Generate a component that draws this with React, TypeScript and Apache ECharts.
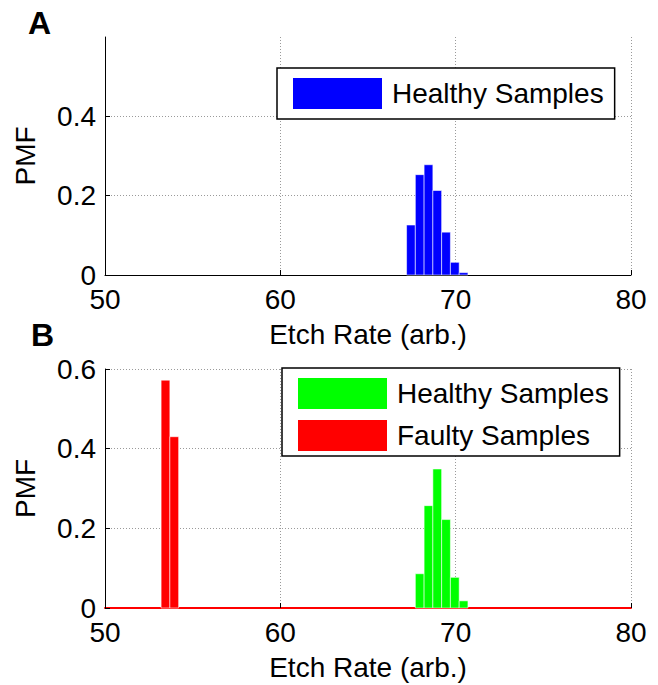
import React, { useEffect, useRef } from 'react';
import * as echarts from 'echarts';

// Panel A: healthy samples
const healthyBinsA = [67.45, 67.95, 68.45, 68.95, 69.45, 69.95, 70.45];
const healthyPmfA = [0.126, 0.253, 0.278, 0.213, 0.108, 0.032, 0.006];
// Panel B: healthy and faulty samples
const healthyBinsB = [67.95, 68.45, 68.95, 69.45, 69.95, 70.45];
const healthyPmfB = [0.086, 0.257, 0.349, 0.222, 0.077, 0.018];
const faultyBinsB = [53.45, 53.95];
const faultyPmfB = [0.572, 0.43];
const binWidth = 0.5;

const xRange = [50, 80];
const xStep = 10;
const yRange = [0, 0.6];
const yStep = 0.2;

const xLabel = 'Etch Rate (arb.)';
const yLabel = 'PMF';
const healthyName = 'Healthy Samples';
const faultyName = 'Faulty Samples';

const FONT = "'Liberation Sans', Arial, sans-serif";

const zip = (xs: number[], ys: number[]) => xs.map((x, i) => [x, ys[i]]);

const barRender = (color: string) => (params: any, api: any) => {
  const x = api.value(0);
  const y = api.value(1);
  const p0 = api.coord([x - binWidth / 2, y]);
  const p1 = api.coord([x + binWidth / 2, 0]);
  return {
    type: 'rect',
    shape: { x: p0[0], y: p0[1], width: p1[0] - p0[0], height: p1[1] - p0[1] },
    style: { fill: color, stroke: 'rgba(255,255,255,0.55)', lineWidth: 1 },
  };
};

const xAxisBase = (gridIndex: number, lineColor: string, lineWidth: number) => ({
  type: 'value',
  gridIndex,
  min: xRange[0],
  max: xRange[1],
  interval: xStep,
  name: xLabel,
  nameLocation: 'middle',
  nameGap: 45,
  nameTextStyle: { fontFamily: FONT, fontSize: 28, color: '#000' },
  axisLine: { show: true, onZero: false, lineStyle: { color: lineColor, width: lineWidth } },
  axisTick: { show: true, inside: true, length: 5, lineStyle: { color: '#000', width: 1 } },
  axisLabel: { fontFamily: FONT, fontSize: 28, lineHeight: 22, color: '#000', margin: 13 },
  splitLine: {
    show: true,
    showMinLine: false,
    showMaxLine: true,
    lineStyle: { color: '#9a9a9a', type: [1, 2], width: 1 },
  },
});

const yAxisBase = (gridIndex: number, showTop: boolean) => ({
  type: 'value',
  gridIndex,
  min: yRange[0],
  max: yRange[1],
  interval: yStep,
  name: yLabel,
  nameLocation: 'middle',
  nameGap: 66,
  nameTextStyle: { fontFamily: FONT, fontSize: 28, color: '#000' },
  axisLine: { show: true, lineStyle: { color: '#000', width: 1 } },
  axisTick: { show: true, inside: true, length: 5, lineStyle: { color: '#000', width: 1 } },
  axisLabel: {
    fontFamily: FONT,
    fontSize: 28,
    lineHeight: 22,
    color: '#000',
    margin: 9,
    showMaxLabel: showTop,
    formatter: (v: number) => (v === 0 ? '0' : String(Math.round(v * 10) / 10)),
  },
  splitLine: {
    show: true,
    showMinLine: false,
    showMaxLine: showTop,
    lineStyle: { color: '#9a9a9a', type: [1, 2], width: 1 },
  },
});

const legendBase = {
  orient: 'vertical',
  itemWidth: 89,
  itemHeight: 31,
  itemGap: 11,
  borderColor: '#000',
  borderWidth: 1.5,
  borderRadius: 0,
  backgroundColor: '#fff',
  textStyle: { fontFamily: FONT, fontSize: 28, color: '#000', padding: [0, 0, 0, 5] },
  selectedMode: false,
};

export default function App() {
  const ref = useRef<HTMLDivElement>(null);

  useEffect(() => {
    if (!ref.current) return;
    const chart = echarts.init(ref.current, undefined, { renderer: 'svg' });
    chart.setOption({
      animation: false,
      backgroundColor: '#fff',
      textStyle: { fontFamily: FONT },
      grid: [
        { left: 105, top: 37, width: 526, height: 238 },
        { left: 105, top: 369, width: 526, height: 239 },
      ],
      xAxis: [xAxisBase(0, '#000', 1), xAxisBase(1, '#ff0000', 2)],
      yAxis: [yAxisBase(0, false), yAxisBase(1, true)],
      legend: [
        {
          ...legendBase,
          left: 277,
          top: 68,
          padding: [10, 11, 10, 16],
          data: [{ name: healthyName, icon: 'rect', itemStyle: { color: '#0000ff', borderWidth: 0 } }],
        },
        {
          ...legendBase,
          left: 282,
          top: 368,
          padding: [10, 11, 5, 16],
          data: [
            { name: healthyName, icon: 'rect', itemStyle: { color: '#00ff00', borderWidth: 0 } },
            { name: faultyName, icon: 'rect', itemStyle: { color: '#ff0000', borderWidth: 0 } },
          ],
        },
      ],
      graphic: [
        {
          type: 'text',
          left: 28,
          top: 7,
          style: { text: 'A', fontFamily: FONT, fontSize: 32, fontWeight: 'bold', fill: '#000' },
        },
        {
          type: 'text',
          left: 31,
          top: 319,
          style: { text: 'B', fontFamily: FONT, fontSize: 32, fontWeight: 'bold', fill: '#000' },
        },
      ],
      series: [
        {
          type: 'custom',
          name: healthyName,
          xAxisIndex: 0,
          yAxisIndex: 0,
          itemStyle: { color: '#0000ff' },
          encode: { x: 0, y: 1 },
          renderItem: barRender('#0000ff'),
          data: zip(healthyBinsA, healthyPmfA),
        },
        {
          type: 'custom',
          name: healthyName,
          xAxisIndex: 1,
          yAxisIndex: 1,
          itemStyle: { color: '#00ff00' },
          encode: { x: 0, y: 1 },
          renderItem: barRender('#00ff00'),
          data: zip(healthyBinsB, healthyPmfB),
        },
        {
          type: 'custom',
          name: faultyName,
          xAxisIndex: 1,
          yAxisIndex: 1,
          itemStyle: { color: '#ff0000' },
          encode: { x: 0, y: 1 },
          renderItem: barRender('#ff0000'),
          data: zip(faultyBinsB, faultyPmfB),
        },
      ],
    });
    return () => chart.dispose();
  }, []);

  return (
    <div
      ref={ref}
      style={{ position: 'fixed', left: 0, top: 0, width: 658, height: 685, background: '#fff' }}
    />
  );
}
